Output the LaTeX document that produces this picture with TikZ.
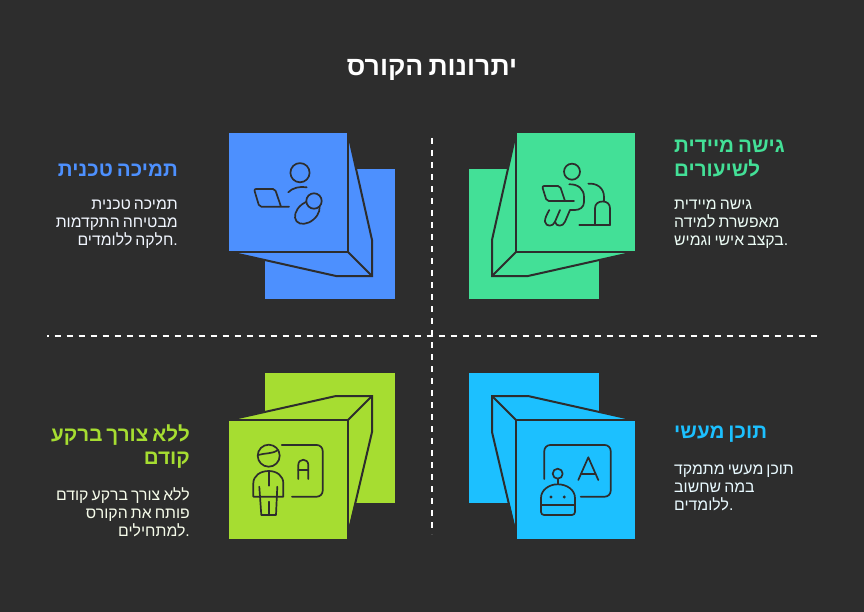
\documentclass[tikz,border=0pt]{standalone}
\usepackage{fontspec}
\setmainfont[Script=Hebrew,WordSpace=0.7]{Liberation Sans}
\TeXXeTstate=1
\definecolor{bgc}{HTML}{2D2D2D}
\definecolor{bluec}{HTML}{4D90FE}
\definecolor{greenc}{HTML}{43E097}
\definecolor{limec}{HTML}{A6DD31}
\definecolor{cyanc}{HTML}{1CC0FF}
\newcommand{\rl}[1]{\beginR #1\endR}
\tikzset{
  edgeline/.style={draw=bgc,line width=2pt,line join=miter},
  iconline/.style={draw=bgc,line width=1.7pt,line cap=round,line join=round},
  divider/.style={draw=white,line width=1.7pt,dash pattern=on 6.3pt off 5.7pt},
  titletext/.style={text=white,font=\bfseries\fontsize{26.6}{30}\selectfont,inner sep=0pt},
  headtext/.style={font=\bfseries\fontsize{20.6}{23.5}\selectfont,inner sep=0pt},
  bodytext/.style={font=\fontsize{15.8}{18}\selectfont,inner sep=0pt},
}
\begin{document}
\begin{tikzpicture}[x=1pt,y=-1pt]
\path[fill=bgc,use as bounding box] (0,0) rectangle (864,612);
\node[titletext] (title) at (432,70) {\rl{יתרונות הקורס}};
% dividers
\coordinate (vtop) at (432,138); \coordinate (vbot) at (432,534);
\coordinate (hl) at (47,336); \coordinate (hr) at (817,336);
\draw[divider] (vtop) -- (vbot);
\draw[divider,dash phase=4.3pt] (hl) -- (hr);
% ---- blue
\fill[bluec] (265,169) rectangle (395,299);
\fill[bluec] (348,133) -- (372,240) -- (372,276) -- (336,276) -- (229,252) -- cycle;
\draw[edgeline] (229,252) -- (336,276) -- (372,276) -- (372,240) -- (348,133);
\draw[edgeline] (372,276) -- (348,252);
\fill[bluec] (229,133) rectangle (347,251);
\draw[edgeline] (229,252) -- (348,252) -- (348,133);
\begin{scope}[iconline]
\draw (300,172.7) circle (9.6);
\draw (288.3,192.3) .. controls (292,188) and (300,186) .. (306.7,187.3);
\draw[rounded corners=2pt] (289,206.7) -- (259.3,206.7) -- (254,189) -- (275,189) -- (281,206.7);
\draw[shift={(307.3,212.3)},rotate=40] (0,0) ellipse [x radius=14,y radius=9.5];
\draw[fill=bluec] (314,201) circle (7.7);
\end{scope}
% ---- green
\fill[greenc] (469,169) rectangle (599,299);
\fill[greenc] (516,133) -- (492,240) -- (492,276) -- (528,276) -- (635,252) -- cycle;
\draw[edgeline] (635,252) -- (528,276) -- (492,276) -- (492,240) -- (516,133);
\draw[edgeline] (492,276) -- (516,252);
\fill[greenc] (517,133) rectangle (635,251);
\draw[edgeline] (635,252) -- (516,252) -- (516,133);
\begin{scope}[iconline]
\draw (572,171.7) circle (8);
\draw (569.3,184.3) .. controls (578,184) and (584,189) .. (584,197) -- (584,202) .. controls (584,207) and (580,210) .. (575,210) -- (570,210) -- (565,221.7) .. controls (563,227) and (556,227) .. (555,221.7) -- (560,210);
\draw (555,221.7) .. controls (553,227) and (546,227) .. (545,221.7) .. controls (544.5,219) and (547,214) .. (549.3,210);
\draw[rounded corners=2pt] (574,201) -- (546.7,201) -- (542,186) -- (560,186) -- (565,201);
\draw (588.3,183.7) .. controls (597,183) and (604,188) .. (604,197) -- (604,201);
\draw (595,225) -- (595,208.3) .. controls (595,204) and (598,201.5) .. (602.7,201.5) .. controls (607,201.5) and (610,204) .. (610,208.3) -- (610,225);
\draw (579.3,225) -- (610,225);
\end{scope}
% ---- lime
\fill[limec] (265,373) rectangle (395,503);
\fill[limec] (348,530) -- (372,432) -- (372,396) -- (336,396) -- (229,420) -- cycle;
\draw[edgeline] (229,420) -- (336,396) -- (372,396) -- (372,432) -- (349,530);
\draw[edgeline] (372,396) -- (348,420);
\fill[limec] (229,421) rectangle (347,539);
\draw[edgeline] (229,420) -- (348,420) -- (348,530);
\begin{scope}[iconline]
\draw (268.7,455.7) circle (11);
\draw (258.3,455) .. controls (264,453) and (273,454) .. (278.3,450);
\draw (253.3,496.7) -- (253.3,483.3) .. controls (253.3,476) and (260,471) .. (268.7,471) .. controls (277,471) and (283.3,476) .. (283.3,483.3) -- (283.3,496.7) -- cycle;
\draw (268.7,471) -- (268.7,485.7);
\draw (259.3,486.7) -- (261.3,515) -- (276,515) -- (277.3,486.7);
\draw (268.7,501.7) -- (268.7,515);
\draw[rounded corners=6pt] (281.7,445) -- (322.7,445) -- (322.7,496.7) -- (292,496.7);
\draw (298.3,479) -- (298.3,465) .. controls (298.3,458) and (308.3,458) .. (308.3,465) -- (308.3,479);
\draw (298.3,470) -- (308.3,470);
\end{scope}
% ---- cyan
\fill[cyanc] (469,373) rectangle (599,503);
\fill[cyanc] (516,530) -- (492,432) -- (492,396) -- (528,396) -- (635,420) -- cycle;
\draw[edgeline] (635,420) -- (528,396) -- (492,396) -- (492,432) -- (515,530);
\draw[edgeline] (492,396) -- (516,420);
\fill[cyanc] (517,421) rectangle (635,539);
\draw[edgeline] (635,420) -- (516,420) -- (516,530);
\begin{scope}[iconline]
\draw[rounded corners=6pt] (544.3,479) -- (544.3,445) -- (610.7,445) -- (610.7,496.7) -- (580.7,496.7);
\draw (578.3,480) -- (588.3,457.3) -- (598.3,480);
\draw (581.5,474) -- (595.5,474);
\draw (557.7,473.7) circle (5);
\draw (557.7,478.7) -- (557.7,484.3);
\draw (541,505) -- (541,498) .. controls (541,490) and (549,484.3) .. (557.7,484.3) .. controls (567,484.3) and (575,490) .. (575,498) -- (575,505) -- cycle;
\draw[rounded corners=3pt] (541,505) -- (541,515) -- (575,515) -- (575,505);
\fill[bgc] (551,497) circle (1.6);
\fill[bgc] (564.3,497) circle (1.6);
\end{scope}
% ---- texts
\node[headtext,text=bluec,anchor=east] (h1) at (178,170) {\rl{תמיכה טכנית}};
\node[bodytext,text=white!92!bluec,anchor=east,align=right] (b1) at (178,224) {\rl{תמיכה טכנית}\\\rl{מבטיחה התקדמות}\\\rl{חלקה ללומדים}.};
\node[headtext,text=greenc,anchor=west,align=left] (h2) at (674,158.5) {\rl{גישה מיידית}\\\rl{לשיעורים}};
\node[bodytext,text=white!90!greenc,anchor=west,align=left] (b2) at (674,224) {\rl{גישה מיידית}\\\rl{מאפשרת למידה}\\\rl{בקצב אישי וגמיש}.};
\node[headtext,text=limec,anchor=east,align=right] (h3) at (190,446.5) {\rl{ללא צורך ברקע}\\\rl{קודם}};
\node[bodytext,text=white!90!limec,anchor=east,align=right] (b3) at (190,512) {\rl{ללא צורך ברקע קודם}\\\rl{פותח את הקורס}\\\rl{למתחילים}.};
\node[headtext,text=cyanc,anchor=west] (h4) at (674,434) {\rl{תוכן מעשי}};
\node[bodytext,text=white!90!cyanc,anchor=west,align=left] (b4) at (674,488) {\rl{תוכן מעשי מתמקד}\\\rl{במה שחשוב}\\\rl{ללומדים}.};
\end{tikzpicture}
\end{document}
